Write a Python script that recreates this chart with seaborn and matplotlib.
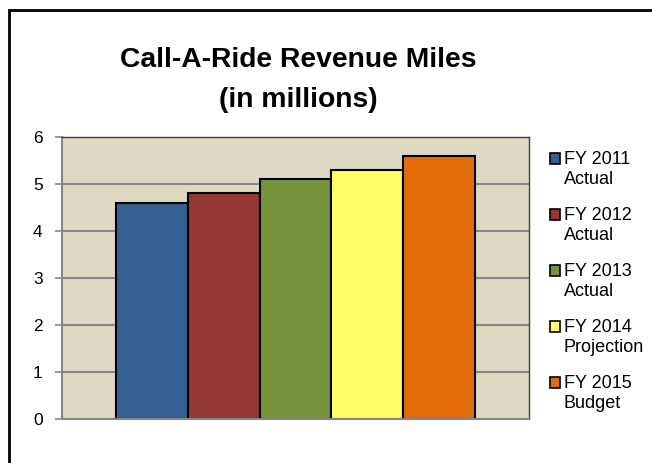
import matplotlib
matplotlib.use("Agg")
import matplotlib.pyplot as plt
import matplotlib.patches as mpatches
from matplotlib.legend_handler import HandlerPatch
import seaborn as sns
import pandas as pd

# Chart data
series = ["FY 2011\nActual", "FY 2012\nActual", "FY 2013\nActual",
          "FY 2014\nProjection", "FY 2015\nBudget"]
values = [4.6, 4.8, 5.1, 5.3, 5.6]
colors = ["#376092", "#953735", "#77933C", "#FFFF66", "#E46C0A"]
yticks = [0, 1, 2, 3, 4, 5, 6]
title_lines = ["Call-A-Ride Revenue Miles", "(in millions)"]

df = pd.DataFrame({"group": ["Revenue Miles"] * len(series),
                   "series": series,
                   "miles": values})

sns.set_style("white")
plt.rcParams["font.family"] = ["Liberation Sans", "DejaVu Sans"]
plt.rcParams["text.color"] = "black"
plt.rcParams["ytick.labelcolor"] = "black"


class FirstLineSquare(HandlerPatch):
    """Legend swatch aligned with the first line of a two-line label."""

    def create_artists(self, legend, orig_handle, xdescent, ydescent,
                       width, height, fontsize, trans):
        shift = 0.6 * fontsize
        p = mpatches.Rectangle((-xdescent, -ydescent + shift), width, height)
        self.update_prop(p, orig_handle, legend)
        p.set_transform(trans)
        return [p]


fig = plt.figure(figsize=(6.52, 4.63), dpi=100)
ax = fig.add_axes([62 / 652, 1 - 419 / 463, (529 - 62) / 652, (419 - 137) / 463])

sns.barplot(data=df, x="group", y="miles", hue="series", palette=colors,
            saturation=1, width=0.77, edgecolor="black", linewidth=1.5,
            legend=False, ax=ax, zorder=3)

ax.set_facecolor("#DDD9C3")
ax.set_ylim(0, 6)
ax.set_xlim(-0.5, 0.5)
ax.set_yticks(yticks)
ax.set_yticklabels([str(t) for t in yticks], fontsize=12.5, color="black")
ax.set_xticks([])
ax.set_xlabel("")
ax.set_ylabel("")
ax.yaxis.grid(True, color="#868686", linewidth=1.5, zorder=0)
ax.set_axisbelow(True)
ax.tick_params(axis="y", length=5, width=1.2, color="#868686", pad=9, left=True)
for side in ["left", "bottom"]:
    ax.spines[side].set_color("#868686")
    ax.spines[side].set_linewidth(1.5)
for side in ["top", "right"]:
    ax.spines[side].set_color("#404040")
    ax.spines[side].set_linewidth(1.0)
ax.spines["bottom"].set_zorder(4)

# Two-line title with wide line spacing
for ypix, line in zip([60, 100], title_lines):
    fig.text(298 / 652, 1 - ypix / 463, line, ha="center", va="center",
             fontsize=20.3, fontweight="bold", color="black")

handles = [mpatches.Patch(facecolor=c, edgecolor="black", linewidth=1.2)
           for c in colors]
fig.legend(handles, series, loc="upper left",
           bbox_to_anchor=(543 / 652, 1 - 144 / 463), frameon=False,
           fontsize=13, handlelength=0.55, handleheight=0.55,
           handletextpad=0.2, labelspacing=1.07, borderaxespad=0,
           handler_map={mpatches.Patch: FirstLineSquare()})

# Outer chart frame (runs past the right and bottom edges)
frame = mpatches.Rectangle((9 / 652, -0.2), 2.0, 1.2 - 10 / 463,
                           transform=fig.transFigure, fill=False,
                           edgecolor="black", linewidth=2.0, clip_on=False)
fig.patches.append(frame)

fig.savefig("out.png", dpi=100)
